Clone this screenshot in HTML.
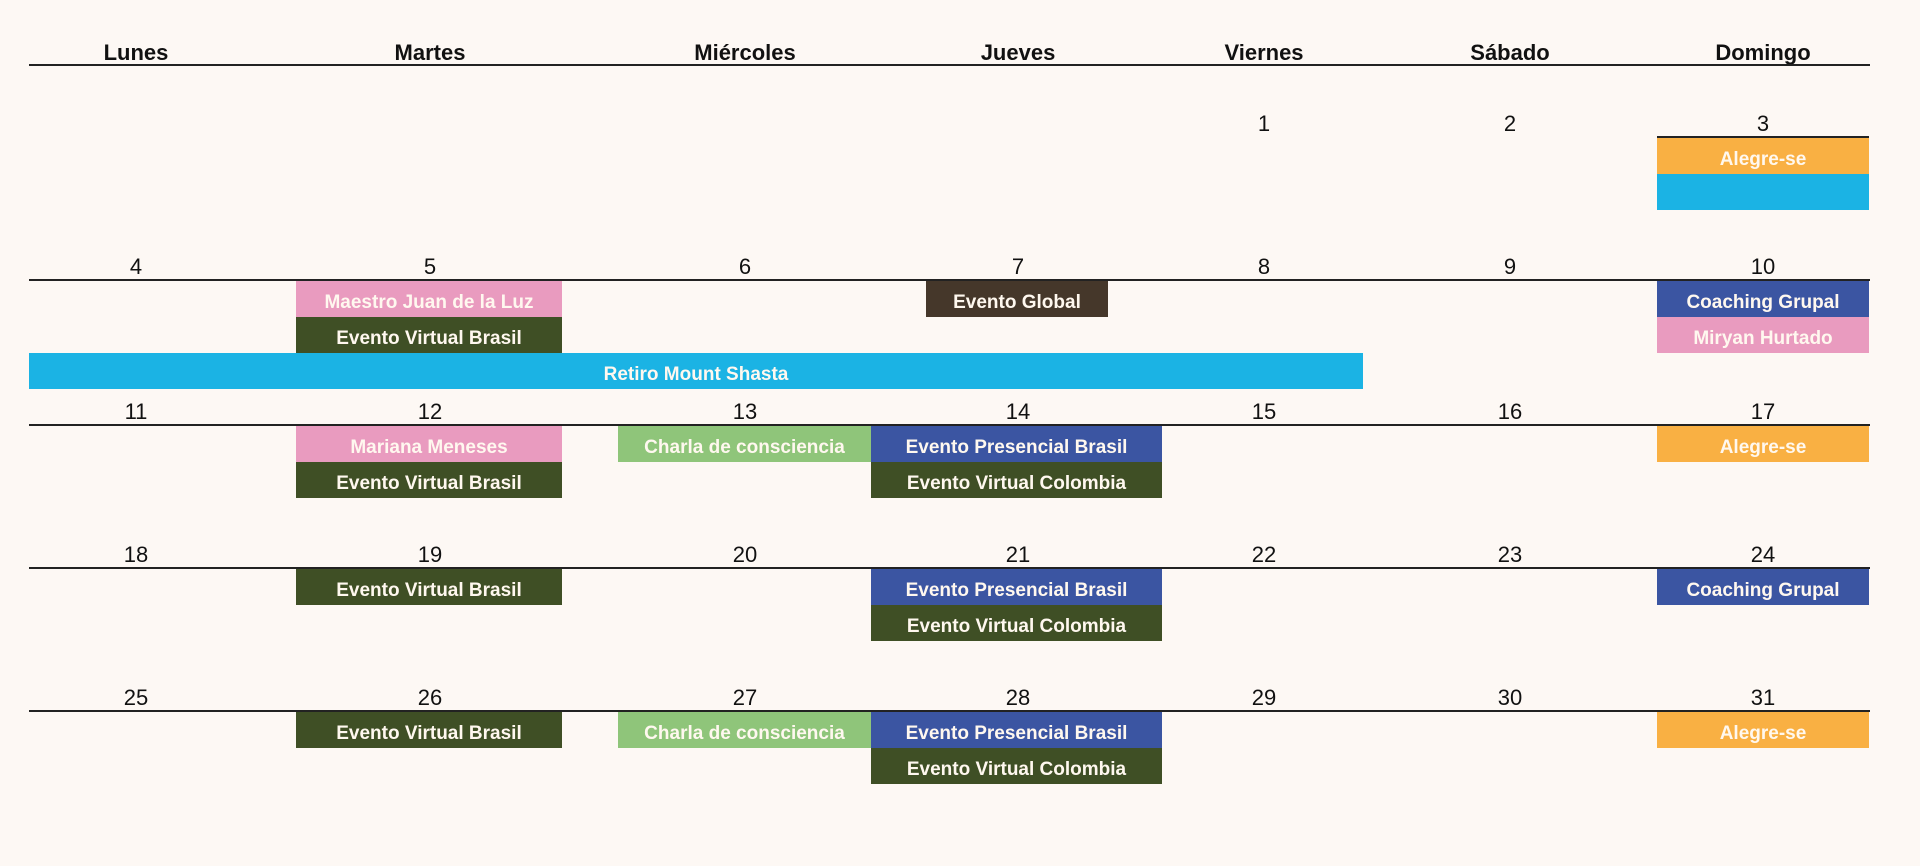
<!DOCTYPE html>
<html><head><meta charset="utf-8"><style>
body{margin:0;width:1920px;height:866px;background:#fdf8f4;position:relative;overflow:hidden;font-family:"Liberation Sans",sans-serif}
.t{position:absolute;transform:translateX(-50%);font-size:22px;color:#111;white-space:nowrap;line-height:1}
.h{font-weight:bold}
.l{position:absolute;height:2px;background:#222}
.e{position:absolute;height:36px;line-height:36px;padding-top:4px;box-sizing:border-box;text-align:center;color:#fff8ef;font-weight:bold;font-size:19px;white-space:nowrap;overflow:hidden}
</style></head><body>
<div id="cal"></div>
<script>
const dayNames=["Lunes","Martes","Miércoles","Jueves","Viernes","Sábado","Domingo"];
const centers=[136,430,745,1018,1264,1510,1763];
const lineY=[137,280,425,568,711];
const weeks=[[null,null,null,null,1,2,3],[4,5,6,7,8,9,10],[11,12,13,14,15,16,17],[18,19,20,21,22,23,24],[25,26,27,28,29,30,31]];
// events: [week,row,x1,x2,color,label]
const events=[
[0,0,1657,1869,"#f9b043","Alegre-se"],[0,1,1657,1869,"#1bb3e4",""],
[1,0,296,562,"#e99bbf","Maestro Juan de la Luz"],[1,1,296,562,"#3f4f25","Evento Virtual Brasil"],
[1,0,926,1108,"#45372a","Evento Global"],[1,0,1657,1869,"#3b55a2","Coaching Grupal"],[1,1,1657,1869,"#e99bbf","Miryan Hurtado"],
[1,2,29,1363,"#1bb3e4","Retiro Mount Shasta"],
[2,0,296,562,"#e99bbf","Mariana Meneses"],[2,1,296,562,"#3f4f25","Evento Virtual Brasil"],
[2,0,618,871,"#8fc57a","Charla de consciencia"],[2,0,871,1162,"#3b55a2","Evento Presencial Brasil"],[2,1,871,1162,"#3f4f25","Evento Virtual Colombia"],
[2,0,1657,1869,"#f9b043","Alegre-se"],
[3,0,296,562,"#3f4f25","Evento Virtual Brasil"],[3,0,871,1162,"#3b55a2","Evento Presencial Brasil"],[3,1,871,1162,"#3f4f25","Evento Virtual Colombia"],[3,0,1657,1869,"#3b55a2","Coaching Grupal"],
[4,0,296,562,"#3f4f25","Evento Virtual Brasil"],[4,0,618,871,"#8fc57a","Charla de consciencia"],[4,0,871,1162,"#3b55a2","Evento Presencial Brasil"],[4,1,871,1162,"#3f4f25","Evento Virtual Colombia"],[4,0,1657,1869,"#f9b043","Alegre-se"]
];
const c=document.getElementById('cal');
function add(cls,st,txt){const d=document.createElement('div');d.className=cls;Object.assign(d.style,st);if(txt!==undefined)d.textContent=txt;c.appendChild(d);return d;}
dayNames.forEach((n,i)=>{const d=add('t h',{left:centers[i]+'px',top:'42px'},n);

});
const hl=add('l',{left:'29px',top:'64px',width:'1841px'});


weeks.forEach((w,wi)=>{
 const ln=wi===0?add('l',{left:'1657px',top:(lineY[wi]-1)+'px',width:'212px'}):add('l',{left:'29px',top:(lineY[wi]-1)+'px',width:'1841px'});
 
 
 w.forEach((d,i)=>{if(d===null)return;const t=add('t',{left:centers[i]+'px',top:(lineY[wi]-24)+'px'},String(d));
 
 });
});
events.forEach(e=>{const d=add('e',{left:e[2]+'px',width:(e[3]-e[2])+'px',top:(lineY[e[0]]+1+e[1]*36)+'px',background:e[4]},e[5]);

});
</script>
</body></html>
